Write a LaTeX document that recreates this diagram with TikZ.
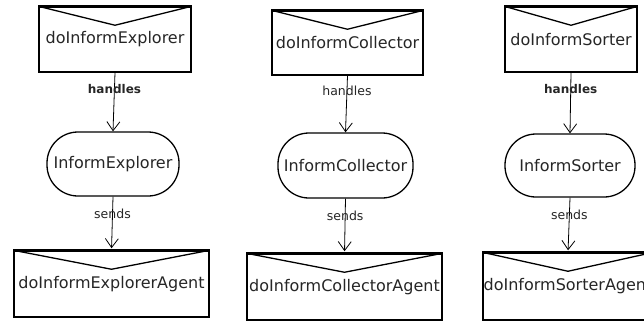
\documentclass[tikz,border=0pt]{standalone}
\usepackage{fontspec}
\setmainfont{DejaVu Sans}
\usetikzlibrary{arrows.meta,calc}
\definecolor{ink}{HTML}{262626}
\tikzset{
  x=1pt, y=1pt,
  msg/.style={draw=black, line width=1.5pt, rectangle, inner sep=0pt,
    font=\fontsize{16}{18}\selectfont, text=ink},
  plan/.style={draw=black, line width=1.3pt, rectangle, inner sep=0pt,
    rounded corners=31pt, font=\fontsize{16}{18}\selectfont, text=ink},
  link/.style={draw=black, line width=0.8pt,
    -{Straight Barb[length=9pt,width=13pt,line width=0.8pt]}},
  lbl/.style={font=\fontsize{12.5}{14}\selectfont, text=ink, inner sep=1pt},
  blbl/.style={lbl, font=\fontsize{12}{14}\selectfont\bfseries}
}
% envelope flap and heavy top edge on a message box
\newcommand{\flap}[1]{%
  \draw[line width=2.4pt] (#1.north west) -- (#1.north east);
  \draw[line width=1.3pt] (#1.north west) -- ($(#1.north west)!0.5!(#1.north east)+(0,-19)$) -- (#1.north east);
}
\begin{document}
\begin{tikzpicture}
\useasboundingbox (0,0) rectangle (644,-322);

% column 1
\node[msg, minimum width=152, minimum height=65] (m1) at (115,-39.5) {doInformExplorer};
\flap{m1}
\node[plan, minimum width=132, minimum height=64] (p1) at (113,-164) {InformExplorer};
\node[msg, minimum width=195, minimum height=66] (a1) at (111.5,-284) {doInformExplorerAgent};
\flap{a1}
\draw[link] (m1.south) -- (p1.north) node[blbl, pos=0.27] {handles};
\draw[link, shorten >=2pt] (p1.south) -- (a1.north) node[lbl, pos=0.32] {sends};

% column 2
\node[msg, minimum width=151, minimum height=64] (m2) at (347.5,-43) {doInformCollector};
\flap{m2}
\node[plan, minimum width=135, minimum height=65] (p2) at (345.5,-165.5) {InformCollector};
\node[msg, minimum width=195, minimum height=66] (a2) at (344.5,-287) {doInformCollectorAgent};
\flap{a2}
\draw[link] (m2.south) -- (p2.north) node[lbl, pos=0.27] {handles};
\draw[link, shorten >=2pt] (p2.south) -- (a2.north) node[lbl, pos=0.32] {sends};

% column 3
\node[msg, minimum width=132, minimum height=65] (m3) at (571,-39.5) {doInformSorter};
\flap{m3}
\node[plan, minimum width=130, minimum height=63] (p3) at (570,-165.5) {InformSorter};
\node[msg, minimum width=170, minimum height=67] (a3) at (568,-286.5) {doInformSorterAgent};
\flap{a3}
\draw[link] (m3.south) -- (p3.north) node[blbl, pos=0.27] {handles};
\draw[link, shorten >=2pt] (p3.south) -- (a3.north) node[lbl, pos=0.32] {sends};
\end{tikzpicture}
\end{document}
